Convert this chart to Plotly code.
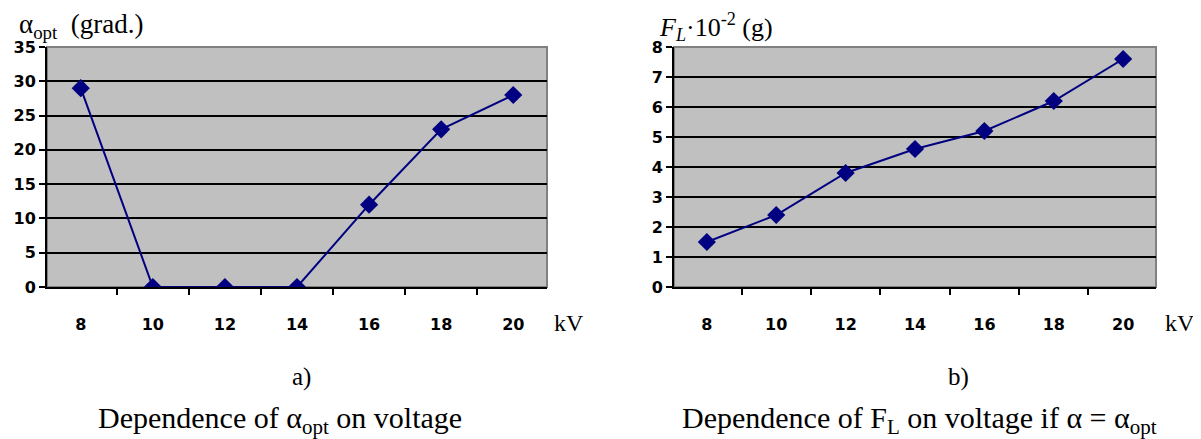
import plotly.graph_objects as go

voltage_kv = ["8", "10", "12", "14", "16", "18", "20"]
alpha_opt_deg = [29, 0, 0, 0, 12, 23, 28]
force_fl = [1.5, 2.4, 3.8, 4.6, 5.2, 6.2, 7.6]

# page body has an 8px margin; figure is sized/offset to compensate
OFF = 8
W, H = 1201 - OFF, 439 - OFF
NAVY = "#000080"

def px_x(p):
    return (p - OFF) / W

def px_y(p):
    return 1 - (p - OFF) / H

fig = go.Figure()
fig.add_trace(go.Scatter(x=voltage_kv, y=alpha_opt_deg, mode="lines+markers",
                         line=dict(color=NAVY, width=2),
                         marker=dict(symbol="diamond", size=14, color=NAVY),
                         xaxis="x", yaxis="y", showlegend=False))
fig.add_trace(go.Scatter(x=voltage_kv, y=force_fl, mode="lines+markers",
                         line=dict(color=NAVY, width=2),
                         marker=dict(symbol="diamond", size=14, color=NAVY),
                         xaxis="x2", yaxis="y2", showlegend=False))

tickfont = dict(family="DejaVu Sans", size=16, color="black", weight="bold")
ydom = [px_y(287), px_y(47)]

xcommon = dict(type="category", tickson="boundaries", ticks="outside", ticklen=6,
               tickwidth=2, tickcolor="black", showline=True, linecolor="black",
               linewidth=2, showgrid=False, tickfont=tickfont, ticklabelstandoff=22,
               fixedrange=True, automargin=False)
ycommon = dict(ticks="outside", ticklen=6, tickwidth=2, tickcolor="black",
               showline=True, linecolor="black", linewidth=2, showgrid=True,
               gridcolor="black", gridwidth=2, zeroline=False, tickfont=tickfont,
               fixedrange=True, automargin=False)

fig.update_layout(
    width=W, height=H, autosize=False,
    margin=dict(l=0, r=0, t=0, b=0, pad=0, autoexpand=False),
    paper_bgcolor="white", plot_bgcolor="#C0C0C0",
    xaxis=dict(domain=[px_x(47), px_x(547)], anchor="y", **xcommon),
    yaxis=dict(domain=ydom, anchor="x", range=[0, 35], dtick=5, **ycommon),
    xaxis2=dict(domain=[px_x(674), px_x(1156)], anchor="y2", **xcommon),
    yaxis2=dict(domain=ydom, anchor="x2", range=[0, 8], dtick=1, **ycommon),
)

for xr, yr in [("x domain", "y domain"), ("x2 domain", "y2 domain")]:
    fig.add_shape(type="rect", xref=xr, yref=yr, x0=0, x1=1, y0=0, y1=1,
                  line=dict(color="#808080", width=2), layer="below")

serif = "Liberation Serif"
ann = [
    dict(text="α<sub>opt</sub>  (grad.)", x=px_x(18), y=1.0, xanchor="left", yanchor="top", size=27),
    dict(text="<i>F<sub>L</sub></i>·10<sup>-2</sup> (g)", x=px_x(658), y=1.0, xanchor="left", yanchor="top", size=26),
    dict(text="kV", x=px_x(553), y=px_y(323), xanchor="left", yanchor="middle", size=24),
    dict(text="kV", x=px_x(1164), y=px_y(323), xanchor="left", yanchor="middle", size=24),
    dict(text="a)", x=px_x(301), y=px_y(377), xanchor="center", yanchor="middle", size=25),
    dict(text="b)", x=px_x(958), y=px_y(377), xanchor="center", yanchor="middle", size=25),
    dict(text="Dependence of α<sub>opt</sub> on voltage", x=px_x(280), y=px_y(420), xanchor="center", yanchor="middle", size=30),
    dict(text="Dependence of F<sub>L</sub> on voltage if α = α<sub>opt</sub>", x=px_x(919), y=px_y(420), xanchor="center", yanchor="middle", size=30),
]
for a in ann:
    fig.add_annotation(text=a["text"], x=a["x"], y=a["y"], xref="paper", yref="paper",
                       xanchor=a["xanchor"], yanchor=a["yanchor"], showarrow=False,
                       borderpad=0,
                       font=dict(family=serif, size=a["size"], color="black"))

fig.write_html("out.html")
